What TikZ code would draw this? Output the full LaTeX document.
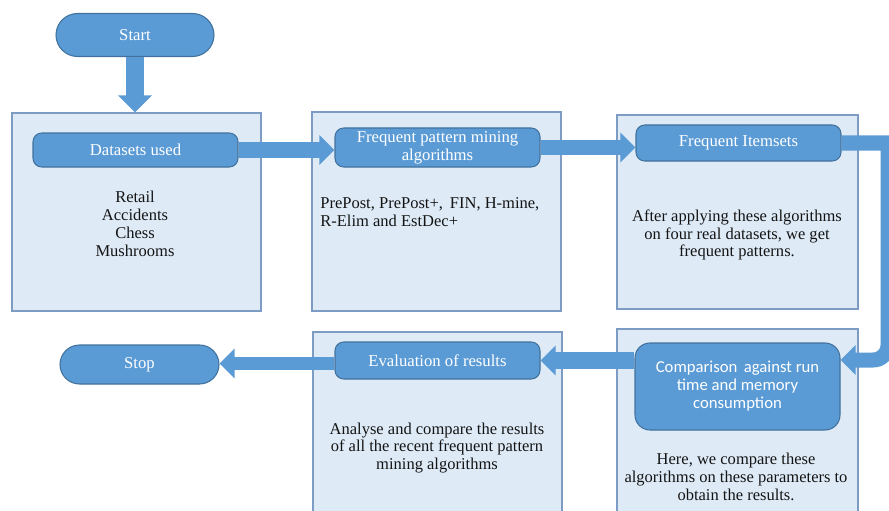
\documentclass[tikz,border=0pt]{standalone}
\usepackage{fontspec}
\setmainfont{Liberation Serif}
\newfontfamily\bodysans{Carlito}
\usetikzlibrary{arrows.meta, positioning, calc, shapes.misc}
\definecolor{BarBlue}{HTML}{5B9BD5}
\definecolor{BarEdge}{HTML}{41719C}
\definecolor{PanelBg}{HTML}{DEEBF7}
\definecolor{PanelEdge}{HTML}{7C9CC4}
\definecolor{InkDark}{HTML}{141414}

\tikzset{
  panel/.style={draw=PanelEdge, fill=PanelBg, line width=0.7pt, minimum width=4.98cm, inner sep=0pt},
  bar/.style={draw=BarEdge, fill=BarBlue, line width=0.6pt, rounded corners=5pt, minimum width=4.1cm,
              text=white, align=center, inner sep=0pt, font=\fontsize{9.5}{10.2}\selectfont},
  terminal/.style={rounded rectangle, draw=BarEdge, fill=BarBlue, line width=0.6pt, minimum width=3.16cm,
                   text=white, inner sep=0pt, font=\fontsize{9.5}{10.2}\selectfont},
  bodytext/.style={text=InkDark, align=center, inner sep=0pt, font=\fontsize{9.4}{10.2}\selectfont},
  flow/.style={draw=BarBlue, line width=0.3cm, -{Triangle[length=0.3cm, width=0.58cm]}},
}

\begin{document}
\begin{tikzpicture}
    \clip (0,0) rectangle (17.78,-10.22);

    % panels
    \node[panel, minimum height=3.96cm] (box1) at (2.73,-4.24) {};
    \node[panel, minimum height=3.98cm] (box2) at (8.73,-4.23) {};
    \node[panel, minimum width=4.82cm, minimum height=3.88cm] (box3) at (14.75,-4.24) {};
    \node[panel, minimum width=4.82cm, minimum height=3.82cm] (box4) at (14.75,-8.49) {};
    \node[panel, minimum height=3.76cm] (box5) at (8.75,-8.52) {};

    % start / stop
    \node[terminal, minimum height=0.86cm] (start) at (2.70,-0.70) {Start};
    \node[terminal, minimum width=3.18cm, minimum height=0.78cm] (stop) at (2.79,-7.29) {Stop};

    % headings
    \node[bar, minimum height=0.68cm] (used) at (2.71,-3.00) {Datasets used};
    \node[bar, minimum height=0.78cm] (mining) at (8.75,-2.95) {Frequent pattern mining\\algorithms};
    \node[bar, minimum height=0.72cm] (itemsets) at (14.77,-2.86) {Frequent Itemsets};
    \node[bar, minimum height=1.74cm, rounded corners=0.3cm, font=\bodysans\fontsize{9.5}{10.2}\selectfont] (compare) at (14.75,-7.73)
        {Comparison \,against run\\time and memory\\consumption};
    \node[bar, minimum height=0.74cm] (evaluate) at (8.75,-7.21) {Evaluation of results};

    % panel texts
    \node[bodytext] (sets) at (2.70,-4.48) {Retail\\Accidents\\Chess\\Mushrooms};
    \node[bodytext, align=left, anchor=west] (algos) at (6.40,-4.24) {PrePost, PrePost+, \,FIN, H-mine,\\R-Elim and EstDec+};
    \node[bodytext] (patterns) at (14.74,-4.70) {After applying these algorithms\\on four real datasets, we get\\frequent patterns.};
    \node[bodytext] (results) at (8.74,-8.96) {Analyse and compare the results\\of all the recent frequent pattern\\mining algorithms};
    \node[bodytext] (params) at (14.72,-9.54) {Here, we compare these\\algorithms on these parameters to\\obtain the results.};

    % connectors
    \draw[flow, line width=0.36cm, -{Triangle[length=0.34cm, width=0.66cm]}] (start.south) -- (start.south |- box1.north);
    \draw[flow] (used.east) -- (used.east -| mining.west);
    \draw[flow] (mining.east) -- (mining.east -| itemsets.west);
    \draw[flow] (itemsets.east) -- ++(0.93,0) [rounded corners=0.3cm] |- ([yshift=0.53cm]compare.east);
    \draw[flow, line width=0.34cm] (compare.west |- evaluate.east) -- (evaluate.east);
    \draw[flow, line width=0.27cm] ([yshift=-0.06cm]evaluate.west) -- ([yshift=-0.06cm]evaluate.west -| stop.east);
\end{tikzpicture}
\end{document}
